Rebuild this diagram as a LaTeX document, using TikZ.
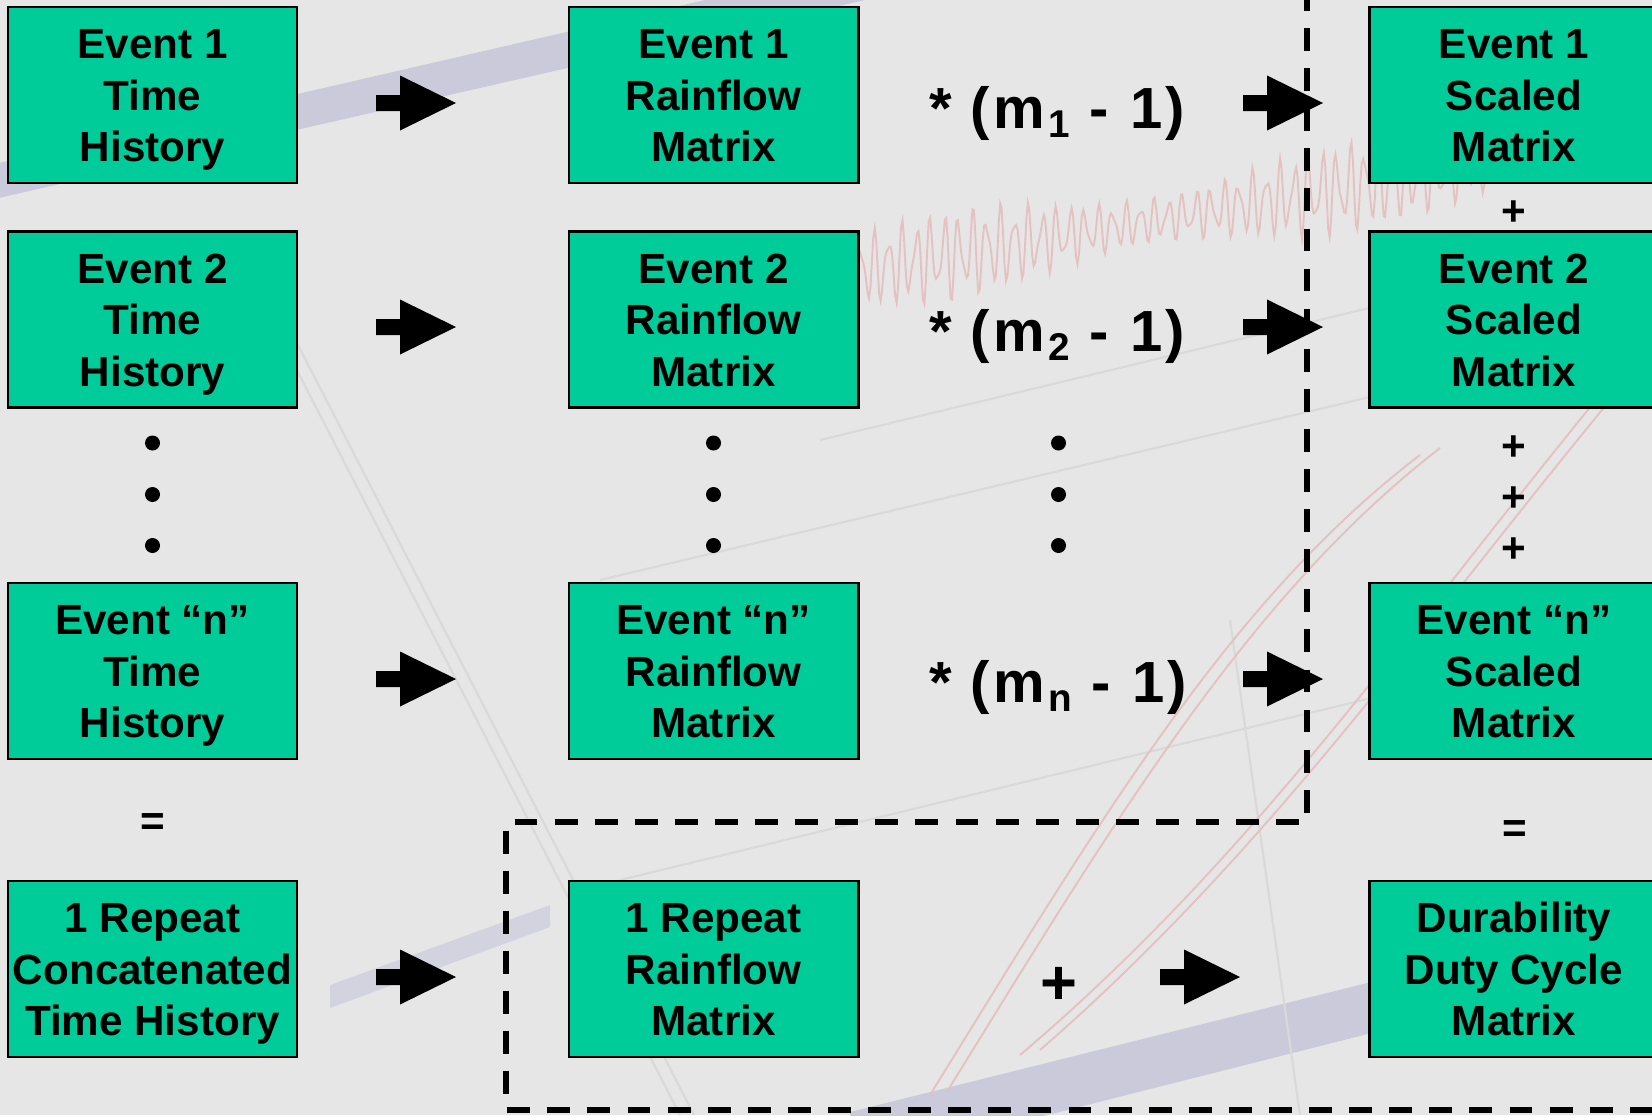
\documentclass[tikz,border=0pt]{standalone}
\usepackage{fontspec}
\setmainfont{Liberation Sans}
\usetikzlibrary{calc}

\definecolor{boxgreen}{HTML}{00CC99}
\definecolor{bggray}{HTML}{E6E6E6}
\definecolor{bandlav}{HTML}{CACADB}
\definecolor{bandlavlight}{HTML}{D3D3E0}
\definecolor{tracered}{HTML}{E4C2C2}
\definecolor{gridgray}{HTML}{D9D9D9}

% last line of a box text without descender depth, so every box centres alike
\newcommand{\nodp}[1]{\raisebox{0pt}[\height][0pt]{#1}}
\newcommand{\threelines}[3]{\rule{0pt}{8.6pt}#1\\#2\\\nodp{#3}}
% scaling factor label  * (m_k - 1)
\newcommand{\multlabel}[1]{*\hspace{5.3pt}(\kern1pt m\kern0.8pt\raisebox{-2.8pt}{\fontsize{11}{12}\selectfont #1}\hspace{5.6pt}-\hspace{6.1pt}1\kern0.9pt)}

\tikzset{
  matbox/.style={rectangle, draw=black, line width=0.8pt, fill=boxgreen,
    minimum width=2.89cm, minimum height=1.76cm, inner sep=0pt, align=center,
    font=\bfseries\fontsize{12}{14.65}\selectfont},
  multtext/.style={inner sep=0pt, anchor=base west, font=\bfseries\fontsize{16.5}{19}\selectfont},
  opsym/.style={inner sep=0pt, font=\bfseries\fontsize{12}{14}\selectfont},
  bigsym/.style={inner sep=0pt, font=\bfseries\fontsize{18}{20}\selectfont},
  dotmark/.style={circle, fill=black, inner sep=0pt, minimum size=1.5mm},
  dashline/.style={draw=black, line width=1.45pt, dash pattern=on 6.5pt off 4.9pt},
  faintline/.style={draw=gridgray, line width=0.6pt},
  trace/.style={draw=tracered, line width=0.55pt},
  blockarrow/.pic={\fill[black] (0,-8) -- (24,-8) -- (24,-27.5) -- (80,0) -- (24,27.5) -- (24,8) -- (0,8) -- cycle;}
}

\begin{document}
\begin{tikzpicture}[x=0.01cm, y=-0.01cm]
\useasboundingbox (0,0) rectangle (1652,1115);

% faded software screenshot behind the diagram
\fill[bggray] (0,0) rectangle (1652,1115);
\fill[bandlav] (-10,165) -- (900,-45) -- (900,-8) -- (-10,200) -- cycle;
\fill[bandlav] (850,1112) -- (1660,910) -- (1660,960) -- (850,1165) -- cycle;
\fill[bandlavlight] (330,985) -- (550,905) -- (550,927) -- (330,1008) -- cycle;
\draw[faintline] (230,240) -- (680,1115);
\draw[faintline] (244,240) -- (694,1115);
\draw[faintline] (820,440) -- (1652,240);
\draw[faintline] (600,580) -- (1652,330);
\draw[faintline] (620,880) -- (1652,630);
\draw[faintline] (1230,620) -- (1300,1115);
\draw[trace] plot[domain=0:640, samples=440]
  ({850+\x}, {272-0.17*\x + (36+12*sin(\x*0.9))*(0.7*sin(mod(\x,14)*25.714)+0.3*sin(mod(\x,9)*40))});
\draw[trace] (930,1095) .. controls (1100,820) and (1230,600) .. (1420,455);
\draw[trace] (948,1090) .. controls (1118,815) and (1250,595) .. (1440,448);
\draw[trace] (1020,1055) .. controls (1250,860) and (1400,640) .. (1600,395);
\draw[trace] (1040,1050) .. controls (1270,850) and (1420,630) .. (1620,388);

% dashed outline of the repeat-summation group
\draw[dashline] (1307,-12) -- (1307,822) -- (506,822) -- (506,1110) -- (1700,1110);

% time histories
\node[matbox] (th1) at (152.5,95)  {\threelines{Event 1}{Time}{History}};
\node[matbox] (th2) at (152.5,319.5) {\threelines{Event 2}{Time}{History}};
\node[matbox] (thn) at (152.5,671) {\threelines{Event “n”}{Time}{History}};
\node[matbox] (thr) at (152.5,969) {\threelines{1 Repeat}{Concatenated}{Time History}};

% rainflow matrices
\node[matbox] (rf1) at (713.5,95)  {\threelines{Event 1}{Rainflow}{Matrix}};
\node[matbox] (rf2) at (713.5,319.5) {\threelines{Event 2}{Rainflow}{Matrix}};
\node[matbox] (rfn) at (713.5,671) {\threelines{Event “n”}{Rainflow}{Matrix}};
\node[matbox] (rfr) at (713.5,969) {\threelines{1 Repeat}{Rainflow}{Matrix}};

% scaled matrices and the duty cycle result
\node[matbox] (sc1) at (1514,95)  {\threelines{Event 1}{Scaled}{Matrix}};
\node[matbox] (sc2) at (1514,319.5) {\threelines{Event 2}{Scaled}{Matrix}};
\node[matbox] (scn) at (1514,671) {\threelines{Event “n”}{Scaled}{Matrix}};
\node[matbox] (dc)  at (1514,969) {\threelines{Durability}{Duty Cycle}{Matrix}};

% scaling factors
\node[multtext] (m1) at (929,128) {\multlabel{1}};
\node[multtext] (m2) at (929,351) {\multlabel{2}};
\node[multtext] (mn) at (929,702) {\multlabel{n}};

% block arrows
\foreach \yy in {103,327,679,977} { \pic at (376,\yy) {blockarrow}; }
\foreach \yy in {103,327,679} { \pic at (1243,\yy) {blockarrow}; }
\pic at (1160,977) {blockarrow};

% continuation dots
\foreach \col/\xx in {l/152.5, m/713.5, f/1058.5} {
  \node[dotmark] (dot\col1) at (\xx,443) {};
  \node[dotmark] (dot\col2) at (\xx,494.5) {};
  \node[dotmark] (dot\col3) at (\xx,545.5) {};
}

% operators
\node[opsym] (plus1) at (1514,213) {+};
\node[opsym] (plus2) at (1514,448) {+};
\node[opsym] (plus3) at (1514,499) {+};
\node[opsym] (plus4) at (1514,550) {+};
\node[opsym] (eqr) at (1515,832) {=};
\node[opsym] (eql) at (152.5,825) {=};
\node[bigsym] (plusb) at (1058.5,986) {+};
\end{tikzpicture}
\end{document}
